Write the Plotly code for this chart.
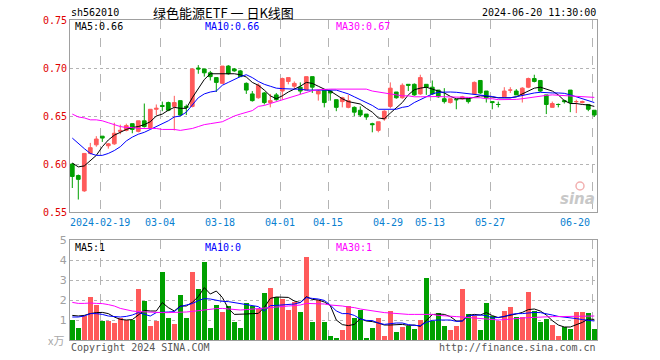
import plotly.graph_objects as go

# ---------------- data ----------------
opens = [0.600,0.588,0.572,0.611,0.620,0.629,0.619,0.621,0.634,0.635,
         0.642,0.634,0.645,0.638,0.657,0.661,0.664,0.660,0.666,0.660,
         0.660,0.700,0.699,0.695,0.690,0.684,0.702,0.699,0.697,0.684,
         0.673,0.669,0.674,0.664,0.672,0.676,0.686,0.681,0.680,0.677,
         0.691,0.673,0.677,0.676,0.667,0.665,0.659,0.659,0.656,0.652,
         0.642,0.635,0.647,0.660,0.675,0.669,0.683,0.683,0.673,0.683,
         0.680,0.677,0.668,0.664,0.667,0.668,0.668,0.673,0.687,0.676,
         0.665,0.662,0.670,0.677,0.676,0.672,0.680,0.689,0.687,0.672,
         0.659,0.662,0.666,0.677,0.665,0.664,0.662,0.656]
highs = [0.601,0.589,0.611,0.622,0.629,0.629,0.622,0.643,0.641,0.642,
         0.642,0.645,0.663,0.657,0.662,0.665,0.665,0.671,0.666,0.662,
         0.700,0.703,0.699,0.697,0.690,0.702,0.703,0.700,0.698,0.685,
         0.676,0.684,0.675,0.673,0.674,0.690,0.690,0.686,0.685,0.691,
         0.691,0.677,0.678,0.677,0.667,0.670,0.672,0.660,0.660,0.652,
         0.643,0.644,0.656,0.685,0.675,0.684,0.683,0.684,0.693,0.683,
         0.687,0.677,0.679,0.668,0.667,0.671,0.668,0.686,0.687,0.676,
         0.665,0.665,0.680,0.680,0.678,0.680,0.690,0.693,0.687,0.672,
         0.665,0.663,0.667,0.677,0.667,0.666,0.662,0.656]
lows = [0.575,0.563,0.571,0.610,0.618,0.623,0.616,0.620,0.631,0.634,
        0.632,0.633,0.638,0.637,0.651,0.655,0.655,0.635,0.650,0.651,
        0.659,0.694,0.691,0.687,0.675,0.684,0.693,0.696,0.691,0.673,
        0.665,0.668,0.662,0.659,0.666,0.667,0.683,0.678,0.673,0.677,
        0.674,0.666,0.659,0.666,0.655,0.659,0.658,0.650,0.649,0.646,
        0.633,0.633,0.645,0.658,0.668,0.668,0.676,0.671,0.672,0.672,
        0.672,0.669,0.663,0.663,0.657,0.667,0.663,0.672,0.673,0.664,
        0.657,0.659,0.670,0.674,0.672,0.664,0.679,0.685,0.675,0.652,
        0.659,0.659,0.663,0.654,0.653,0.663,0.655,0.649]
closes = [0.587,0.584,0.611,0.617,0.626,0.627,0.621,0.632,0.635,0.640,
          0.636,0.645,0.639,0.657,0.658,0.660,0.656,0.664,0.651,0.659,
          0.699,0.699,0.695,0.691,0.685,0.702,0.694,0.697,0.691,0.677,
          0.666,0.682,0.664,0.666,0.667,0.689,0.690,0.684,0.676,0.691,
          0.680,0.676,0.664,0.674,0.659,0.669,0.666,0.654,0.651,0.649,
          0.641,0.644,0.655,0.679,0.669,0.682,0.682,0.672,0.690,0.680,
          0.673,0.670,0.665,0.668,0.667,0.670,0.665,0.685,0.674,0.669,
          0.664,0.662,0.676,0.677,0.672,0.679,0.689,0.686,0.676,0.662,
          0.663,0.662,0.665,0.664,0.665,0.665,0.657,0.651]

ma5 = [0.601,0.597,0.598,0.604,0.609,0.618,0.625,0.630,0.633,0.636,
       0.638,0.639,0.641,0.644,0.650,0.652,0.656,0.659,0.658,0.658,
       0.669,0.679,0.688,0.694,0.694,0.694,0.694,0.694,0.693,0.6906,
       0.685,0.682,0.677,0.671,0.668,0.671,0.675,0.678,0.681,0.685,
       0.684,0.681,0.678,0.676,0.672,0.668,0.665,0.664,0.6625,0.658,
       0.654,0.648,0.647,0.653,0.658,0.664,0.672,0.6774,0.679,0.680,
       0.678,0.676,0.674,0.6705,0.668,0.668,0.668,0.6695,0.671,0.6705,
       0.6695,0.669,0.669,0.669,0.670,0.673,0.676,0.679,0.680,0.678,
       0.676,0.672,0.666,0.663,0.663,0.662,0.6615,0.660]
ma10 = [0.627,0.621,0.616,0.611,0.609,0.609,0.611,0.614,0.618,0.624,
        0.628,0.631,0.633,0.636,0.639,0.642,0.645,0.649,0.650,0.654,
        0.661,0.669,0.673,0.675,0.676,0.682,0.685,0.688,0.691,0.693,
        0.690,0.686,0.683,0.681,0.679,0.6785,0.678,0.678,0.678,0.677,
        0.677,0.677,0.677,0.677,0.677,0.675,0.673,0.670,0.667,0.6635,
        0.661,0.657,0.657,0.657,0.657,0.659,0.660,0.664,0.667,0.6705,
        0.673,0.6747,0.675,0.675,0.6747,0.674,0.673,0.673,0.672,0.671,
        0.6703,0.669,0.669,0.669,0.670,0.6715,0.673,0.674,0.6747,0.674,
        0.674,0.674,0.6736,0.672,0.670,0.668,0.666,0.664]
ma30 = [0.652,0.649,0.648,0.646,0.646,0.645,0.643,0.641,0.639,0.638,
        0.638,0.637,0.637,0.637,0.637,0.636,0.636,0.636,0.635,0.636,
        0.637,0.639,0.641,0.642,0.643,0.644,0.647,0.650,0.652,0.654,
        0.6556,0.660,0.661,0.663,0.665,0.667,0.669,0.671,0.6726,0.6747,
        0.6764,0.6774,0.678,0.678,0.678,0.678,0.678,0.678,0.678,0.678,
        0.676,0.675,0.674,0.673,0.6715,0.671,0.671,0.670,0.670,0.6703,
        0.6705,0.6703,0.670,0.670,0.6694,0.6694,0.6694,0.669,0.669,0.668,
        0.668,0.667,0.667,0.667,0.6673,0.668,0.669,0.6694,0.6705,0.6715,
        0.672,0.6717,0.671,0.6707,0.6705,0.670,0.6697,0.6694]

volume = [1.0,0.58,1.2,2.15,1.75,0.95,0.95,0.85,1.08,1.0,
          1.0,2.55,1.95,0.7,0.95,3.4,1.1,0.8,2.25,1.1,
          3.4,2.55,3.9,0.6,1.75,1.4,1.7,0.9,0.6,1.83,
          1.7,1.55,2.35,2.6,2.15,2.05,1.5,1.9,1.4,4.15,
          0.9,2.0,0.9,0.2,0.1,0.5,1.7,1.1,1.5,0.1,
          0.6,1.1,0.2,1.45,0.4,0.65,0.7,0.55,1.0,3.1,
          0.95,1.35,0.7,0.5,0.7,2.55,1.3,1.2,0.5,1.85,
          1.2,0.95,1.45,1.65,1.15,1.15,2.4,1.45,0.9,1.05,
          0.75,0.2,0.65,0.55,1.4,1.4,1.35,0.55]
vma5 = [1.23,1.2,1.23,1.32,1.37,1.38,1.32,1.15,1.03,1.0,
        1.02,1.23,1.48,1.45,1.45,1.87,1.62,1.45,1.7,1.7,
        1.88,2.17,2.62,2.3,2.45,2.13,1.58,1.28,1.28,1.3,
        1.32,1.33,1.63,2.08,2.15,2.15,2.13,1.95,1.87,2.17,
        2.03,2.0,1.9,1.72,1.0,0.77,0.72,0.78,1.07,0.95,
        0.92,0.85,0.75,0.75,0.78,0.78,0.73,0.75,0.68,1.0,
        1.27,1.3,1.28,1.17,0.95,0.95,1.23,1.28,1.25,1.37,
        1.22,1.12,1.17,1.25,1.3,1.38,1.52,1.55,1.45,1.25,
        0.97,0.75,0.65,0.65,0.75,0.88,1.05,1.03]
vma10 = [1.15,1.15,1.2,1.32,1.32,1.28,1.2,1.18,1.15,1.18,
         1.25,1.37,1.3,1.2,1.37,1.4,1.4,1.42,1.67,1.75,
         1.82,1.97,2.07,2.05,2.0,1.93,1.92,1.87,1.82,1.8,
         1.75,1.67,1.45,1.72,1.73,1.75,1.75,1.8,1.87,2.12,
         2.08,2.05,1.98,1.75,1.45,1.32,1.32,1.23,1.05,0.98,
         0.97,0.85,0.78,0.83,0.85,0.85,0.77,0.73,0.72,0.88,
         0.98,1.0,1.0,1.0,0.93,0.95,1.22,1.25,1.25,1.22,
         1.1,1.13,1.17,1.27,1.32,1.32,1.35,1.38,1.37,1.32,
         1.25,1.18,1.15,1.12,1.07,1.02,0.97,0.95]
vma30 = [1.88,1.83,1.83,1.85,1.83,1.82,1.77,1.7,1.58,1.5,
         1.45,1.42,1.4,1.38,1.37,1.37,1.37,1.37,1.37,1.4,
         1.43,1.47,1.52,1.55,1.57,1.58,1.55,1.52,1.5,1.52,
         1.55,1.58,1.6,1.63,1.65,1.67,1.7,1.72,1.75,1.83,
         1.82,1.82,1.8,1.75,1.73,1.7,1.65,1.62,1.55,1.5,
         1.45,1.4,1.37,1.35,1.32,1.3,1.28,1.28,1.28,1.28,
         1.28,1.23,1.2,1.18,1.17,1.15,1.12,1.1,1.08,1.05,
         1.03,1.0,1.02,1.05,1.08,1.08,1.12,1.13,1.15,1.17,
         1.17,1.17,1.17,1.17,1.18,1.2,1.2,1.2]

tick_index = [5, 15, 25, 35, 43, 53, 60, 70, 87]
tick_labels = ["2024-02-19", "03-04", "03-18", "04-01", "04-15",
               "04-29", "05-13", "05-27", "06-20"]
price_ticks = [0.55, 0.60, 0.65, 0.70, 0.75]
vol_ticks = [1, 2, 3, 4, 5]

# ---------------- styling ----------------
UP = "#ff5a5a"
DOWN = "#00a000"
MONO = "DejaVu Sans Mono"
W, H = 660, 360
L, R, T, B = 70, 597, 20, 340

n = len(closes)
idx = list(range(n))
vol_colors = [UP if c >= o else DOWN for o, c in zip(opens, closes)]

fig = go.Figure()
fig.add_trace(go.Candlestick(
    x=idx, open=opens, high=highs, low=lows, close=closes,
    increasing=dict(line=dict(color=UP, width=1), fillcolor=UP),
    decreasing=dict(line=dict(color=DOWN, width=1), fillcolor=DOWN),
    whiskerwidth=0, xaxis="x", yaxis="y", showlegend=False, hoverinfo="skip"))
for arr, col in [(ma5, "#000000"), (ma10, "#0000ff"), (ma30, "#ff00ff")]:
    fig.add_trace(go.Scatter(x=idx, y=arr, mode="lines", line=dict(color=col, width=1),
                             xaxis="x", yaxis="y", showlegend=False, hoverinfo="skip"))
fig.add_trace(go.Bar(x=idx, y=volume, marker=dict(color=vol_colors, line=dict(width=0)),
                     width=0.84, xaxis="x2", yaxis="y2", showlegend=False, hoverinfo="skip"))
for arr, col in [(vma5, "#000000"), (vma10, "#0000ff"), (vma30, "#ff00ff")]:
    fig.add_trace(go.Scatter(x=idx, y=arr, mode="lines", line=dict(color=col, width=1),
                             xaxis="x2", yaxis="y2", showlegend=False, hoverinfo="skip"))

xr = [-0.383, 87.45]
grid_x = [i - 0.35 for i in tick_index]
axis_common = dict(showline=True, mirror=True, linecolor="#a0a0a0", linewidth=1,
                   zeroline=False, ticks="")
main_bottom = 212
vol_top = 240
d_main = [(B - main_bottom) / (B - T), 1]
d_vol = [0, (B - vol_top) / (B - T)]

fig.update_layout(
    width=W, height=H, paper_bgcolor="white", plot_bgcolor="white",
    margin=dict(l=L, r=W - R, t=T, b=H - B, pad=0),
    boxgap=0.12, bargap=0,
    xaxis=dict(domain=[0, 1], range=xr, anchor="y", rangeslider=dict(visible=False),
               tickvals=grid_x, showticklabels=False, showgrid=True, gridcolor="#b4b4b4",
               griddash="dash", gridwidth=1, **axis_common),
    yaxis=dict(domain=d_main, range=[0.55, 0.75], anchor="x", tickvals=price_ticks,
               ticktext=[f"{v:.2f}" for v in price_ticks], showgrid=True,
               gridcolor="#b4b4b4", griddash="dot", gridwidth=1,
               tickfont=dict(family=MONO, size=10, color="#e00000"), **axis_common),
    xaxis2=dict(domain=[0, 1], range=xr, anchor="y2", matches="x", tickvals=grid_x,
                showticklabels=False, showgrid=True, gridcolor="#b4b4b4",
                griddash="dash", gridwidth=1, **axis_common),
    yaxis2=dict(domain=d_vol, range=[0, 5], anchor="x2", tickvals=vol_ticks,
                ticktext=[str(v) for v in vol_ticks], showgrid=True,
                gridcolor="#b4b4b4", griddash="dot", gridwidth=1,
                tickfont=dict(family="DejaVu Sans", size=11, color="#a0a0a0"), **axis_common),
)

def px(x):
    return (x - L) / (R - L)

def py(y):
    return (B - y) / (B - T)

def note(text, x, y, color="#000", size=10, family=MONO, xanchor="left", **kw):
    fig.add_annotation(text=text, x=px(x), y=py(y), xref="paper", yref="paper",
                       showarrow=False, xanchor=xanchor, yanchor="middle",
                       font=dict(family=family, size=size, color=color), **kw)

# date labels under the price pane (last one kept inside the frame)
for k, (gx, lab) in enumerate(zip(grid_x, tick_labels)):
    fig.add_annotation(text=lab, x=gx, xref="x", y=py(222), yref="paper",
                       showarrow=False, yanchor="middle",
                       xanchor="right" if k == len(grid_x) - 1 else "center",
                       font=dict(family=MONO, size=10, color="#0a7fd0"))

note("sh562010", 69, 13)
note("绿色能源ETF 一 日K线图", 223, 13, size=13, family="Noto Sans CJK SC", xanchor="center")
note("2024-06-20 11:30:00", 598, 13, xanchor="right")
note(f"MA5:{ma5[-1]:.2f}", 73, 26)
note(f"MA10:{ma10[-1]:.2f}", 203, 26, color="#0000ff")
note(f"MA30:{ma30[-1]:.2f}", 334, 26, color="#ff00ff")
note("MA5:1", 73, 247)
note("MA10:0", 203, 247, color="#0000ff")
note("MA30:1", 334, 247, color="#ff00ff")
note("x万", 66, 340, color="#a8a8a8", size=11, family="Noto Sans CJK SC", xanchor="right")
note("Copyright 2024 SINA.COM", 69, 347, color="#555555")
note("http://finance.sina.com.cn", 598, 347, color="#555555", xanchor="right")
note("<b><i>sina</i></b>", 577, 199, color="#c8c8c8", size=15, family="DejaVu Sans",
     xanchor="center")
# small watermark eye (decorative shape)
fig.add_shape(type="circle", xref="paper", yref="paper",
              x0=px(576), x1=px(584), y0=py(190), y1=py(182),
              line=dict(color="#f2b0b0", width=1.5), fillcolor="rgba(0,0,0,0)")

fig.write_html("out.html", config={"displayModeBar": False},
               post_script="document.body.style.margin='0px';")
